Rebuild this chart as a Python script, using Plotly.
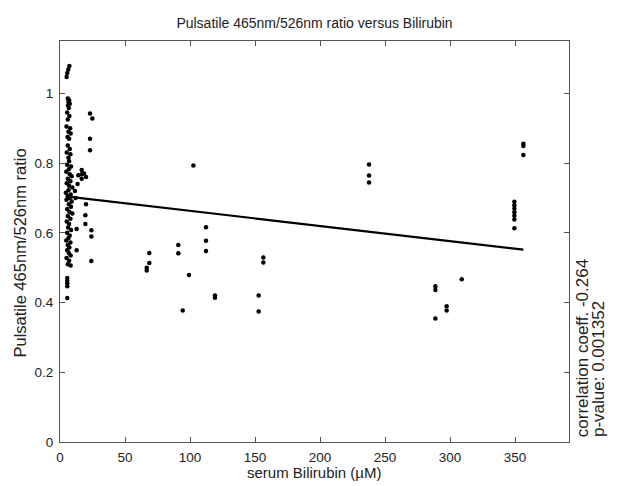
import plotly.graph_objects as go
import numpy as np

# serum bilirubin (uM) and pulsatile 465/526 ratio
bilirubin = [
    7.2, 6.4, 5.6, 5.1,
    6.0, 7.0, 6.5, 7.5, 6.2, 6.8,
    5.5, 7.2, 6.0,
    5.0, 7.8, 6.5, 8.2, 5.8, 7.0,
    6.0, 7.5, 5.2, 8.0, 6.5, 7.0,
    5.5, 8.5, 6.8, 4.8, 7.5, 9.0, 6.0, 8.0, 5.2,
    7.0, 9.5, 6.5, 4.5, 8.2, 6.0, 7.5, 5.0, 9.0,
    6.8, 8.5, 5.5, 7.2, 9.5, 6.0, 8.0,
    5.2, 7.0, 6.2, 8.5, 5.5, 7.5, 6.5, 4.8, 8.0, 6.0, 7.2, 5.5, 6.8, 8.2, 5.0, 7.0, 6.0,
    8.2, 5.6, 5.6, 5.6, 5.6, 5.6,
    14.1, 16.7, 16.7, 16.7, 13.5, 18.5, 20.0,
    23.1, 24.9, 23.1, 23.1,
    20.0, 19.5, 19.5, 24.1, 24.1, 24.1, 12.8, 12.8, 11.5, 12.0,
    66.7, 66.7, 68.7, 68.7,
    91.0, 91.0, 94.4, 99.2, 102.6,
    112.3, 112.3, 112.3, 119.2, 119.2,
    152.8, 152.8, 156.4, 156.4,
    237.7, 237.7, 237.7,
    288.7, 288.7, 288.7, 297.4, 297.4, 309.0,
    349.5, 349.5, 349.5, 349.5, 349.5, 349.5, 349.5,
    356.4, 356.4, 356.4,
]
ratio = [
    1.078, 1.068, 1.058, 1.047,
    0.985, 0.980, 0.975, 0.970, 0.965, 0.958,
    0.945, 0.935, 0.925,
    0.905, 0.900, 0.890, 0.885, 0.875, 0.870,
    0.850, 0.840, 0.830, 0.825, 0.815, 0.805,
    0.795, 0.790, 0.782, 0.775, 0.768, 0.762, 0.755, 0.748, 0.742,
    0.735, 0.730, 0.722, 0.715, 0.710, 0.705, 0.700, 0.695, 0.690,
    0.682, 0.675, 0.668, 0.660, 0.655, 0.648, 0.640,
    0.632, 0.625, 0.615, 0.608, 0.600, 0.592, 0.585, 0.578, 0.572, 0.565, 0.558, 0.550, 0.542, 0.535, 0.528, 0.520, 0.510,
    0.506, 0.470, 0.462, 0.455, 0.447, 0.413,
    0.765, 0.780, 0.768, 0.755, 0.740, 0.770, 0.760,
    0.942, 0.928, 0.870, 0.837,
    0.682, 0.650, 0.625, 0.607, 0.589, 0.519, 0.611, 0.550, 0.720, 0.700,
    0.500, 0.492, 0.513, 0.542,
    0.565, 0.541, 0.377, 0.479, 0.793,
    0.616, 0.577, 0.548, 0.420, 0.414,
    0.420, 0.374, 0.529, 0.515,
    0.796, 0.764, 0.744,
    0.447, 0.436, 0.354, 0.389, 0.377, 0.467,
    0.689, 0.679, 0.669, 0.659, 0.649, 0.638, 0.613,
    0.855, 0.849, 0.823,
]

# linear fit
fit_intercept = 0.7065
fit_slope = -0.000435

x_ticks = [0, 50, 100, 150, 200, 250, 300, 350]
y_ticks = [0, 0.2, 0.4, 0.6, 0.8, 1.0]
y_tick_labels = ["0", "0.2", "0.4", "0.6", "0.8", "1"]

title_text = "Pulsatile 465nm/526nm ratio versus Bilirubin"
x_title = "serum Bilirubin (µM)"
y_title = "Pulsatile 465nm/526nm ratio"
corr_text = "correlation coeff. -0.264"
p_text = "p-value: 0.001352"

fx = np.array([min(bilirubin), max(bilirubin)])
fy = fit_intercept + fit_slope * fx

font = "Liberation Sans, Arial, sans-serif"
txt = "#222"

fig = go.Figure()
fig.add_trace(go.Scatter(x=bilirubin, y=ratio, mode="markers",
                         marker=dict(color="black", size=4.5, line=dict(width=0)),
                         showlegend=False))
fig.add_trace(go.Scatter(x=fx, y=fy, mode="lines",
                         line=dict(color="black", width=2.2), showlegend=False))

axis_common = dict(showgrid=False, zeroline=False, showline=True, linecolor="#555",
                   linewidth=1, mirror="ticks", ticks="inside", ticklen=5,
                   tickcolor="#555", automargin=False, ticklabelstandoff=3,
                   tickfont=dict(family=font, size=13.5, color=txt))

fig.update_xaxes(range=[0, 391.5], tickvals=x_ticks, **axis_common)
fig.update_yaxes(range=[0, 1.15], tickvals=y_ticks, ticktext=y_tick_labels, **axis_common)

# axis titles and side texts placed as paper annotations
fig.add_annotation(text=x_title, xref="paper", yref="paper", x=0.5, y=0, yshift=-30,
                   xanchor="center", yanchor="middle", showarrow=False,
                   font=dict(family=font, size=15, color=txt))
fig.add_annotation(text=y_title, textangle=-90, xref="paper", yref="paper", x=0, xshift=-40,
                   y=0.47, xanchor="center", yanchor="middle", showarrow=False,
                   font=dict(family=font, size=16.5, color=txt))
fig.add_annotation(text=corr_text, textangle=-90, xref="paper", yref="paper",
                   x=1.0, xshift=13, y=0.234, xanchor="center", yanchor="middle",
                   showarrow=False, font=dict(family=font, size=17, color=txt))
fig.add_annotation(text=p_text, textangle=-90, xref="paper", yref="paper",
                   x=1.0, xshift=29, y=0.182, xanchor="center", yanchor="middle",
                   showarrow=False, font=dict(family=font, size=17, color=txt))

# the page body has an 8px margin, so the figure is 8px smaller and margins shifted
fig.update_layout(
    width=609, height=478,
    margin=dict(l=52, r=48, t=33, b=44),
    paper_bgcolor="white", plot_bgcolor="white",
    title=dict(text=title_text, x=0.5, xref="paper",
               xanchor="center", y=1 - 15 / 478, yref="container", yanchor="middle",
               font=dict(family=font, size=14, color=txt)),
)

fig.write_html("out.html")
